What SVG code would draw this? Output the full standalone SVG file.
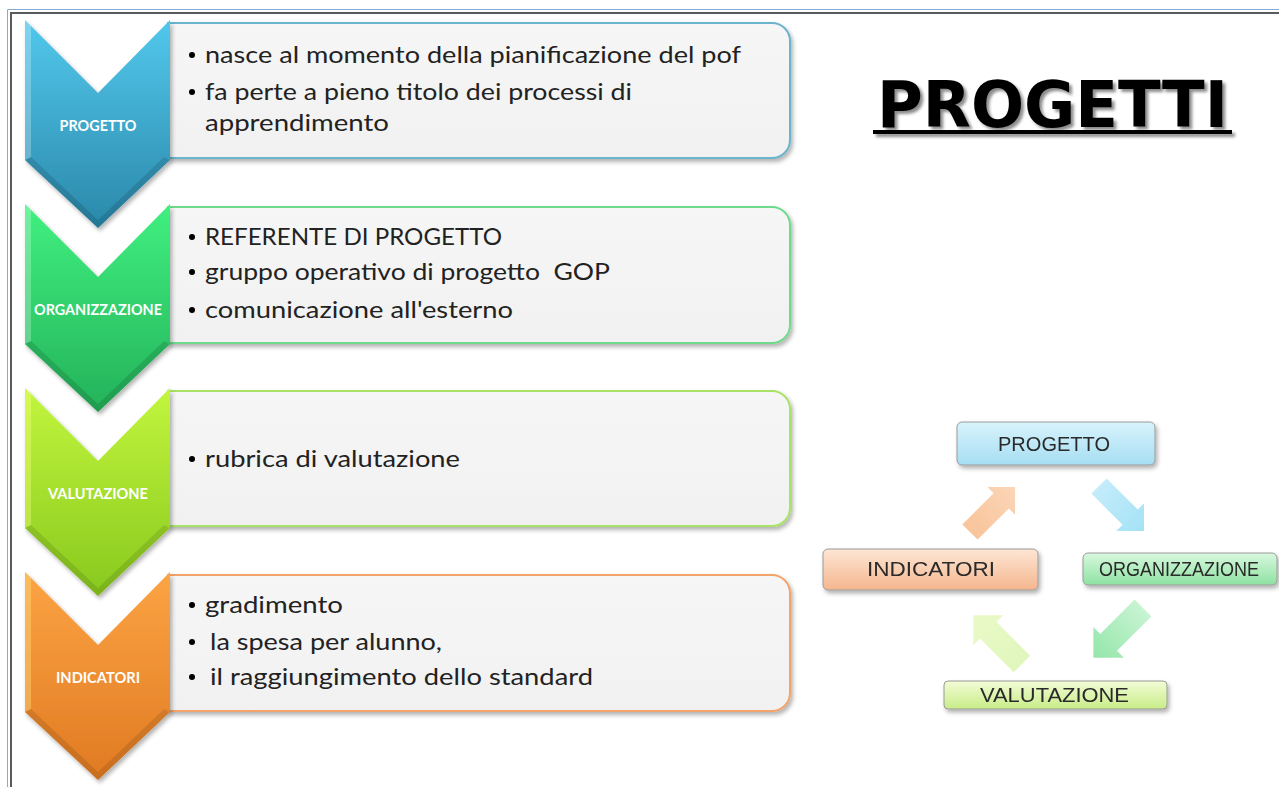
<svg xmlns="http://www.w3.org/2000/svg" width="1279" height="787" viewBox="0 0 1279 787">
<style>
.item{font-family:Lato,"Open Sans","Liberation Sans",sans-serif;font-size:24px;fill:#222}
.lbl{font-family:Lato,"Open Sans","Liberation Sans",sans-serif;font-weight:bold;font-size:15px;fill:#fff;text-anchor:middle}
.cyc{font-family:"Liberation Sans",Arial,sans-serif;font-size:20px;fill:#2a2a2a}
.box{fill:url(#boxFill);stroke-width:2}
.cbox{stroke:#9a9a9a;stroke-width:1}
.title{font-family:"DejaVu Sans",Verdana,sans-serif;font-weight:bold;font-size:64px;fill:#000}
</style>
<defs>
<filter id="sh" x="-10%" y="-10%" width="130%" height="140%"><feDropShadow dx="2" dy="3" stdDeviation="2" flood-color="#000" flood-opacity="0.3"/></filter>
<filter id="tsh" x="-10%" y="-20%" width="130%" height="150%"><feDropShadow dx="3" dy="3" stdDeviation="1.5" flood-color="#000" flood-opacity="0.45"/></filter>
<linearGradient id="boxFill" x1="0" y1="0" x2="0" y2="1"><stop offset="0" stop-color="#f6f6f6"/><stop offset="1" stop-color="#f1f1f1"/></linearGradient>
<linearGradient id="gBlue" x1="0" y1="0" x2="0" y2="1"><stop offset="0" stop-color="#52c8ec"/><stop offset="1" stop-color="#2a88aa"/></linearGradient>
<linearGradient id="gGreen" x1="0" y1="0" x2="0" y2="1"><stop offset="0" stop-color="#40f080"/><stop offset="1" stop-color="#24b25a"/></linearGradient>
<linearGradient id="gLime" x1="0" y1="0" x2="0" y2="1"><stop offset="0" stop-color="#c2f63e"/><stop offset="1" stop-color="#88c81e"/></linearGradient>
<linearGradient id="gOrange" x1="0" y1="0" x2="0" y2="1"><stop offset="0" stop-color="#fca444"/><stop offset="1" stop-color="#e07a22"/></linearGradient>
<linearGradient id="cBlue" x1="0" y1="0" x2="0" y2="1"><stop offset="0" stop-color="#d8f3fc"/><stop offset="1" stop-color="#a6def2"/></linearGradient>
<linearGradient id="cGreen" x1="0" y1="0" x2="0" y2="1"><stop offset="0" stop-color="#d8f8de"/><stop offset="1" stop-color="#8ee2a2"/></linearGradient>
<linearGradient id="cOrange" x1="0" y1="0" x2="0" y2="1"><stop offset="0" stop-color="#fde6d4"/><stop offset="1" stop-color="#f5b68e"/></linearGradient>
<linearGradient id="cLime" x1="0" y1="0" x2="0" y2="1"><stop offset="0" stop-color="#f2fcd6"/><stop offset="1" stop-color="#c8ec88"/></linearGradient>
<linearGradient id="aBlue" x1="0" y1="0" x2="1" y2="0"><stop offset="0" stop-color="#c4ecfa"/><stop offset="1" stop-color="#a4e2f6"/></linearGradient>
<linearGradient id="aGreen" x1="0" y1="0" x2="1" y2="0"><stop offset="0" stop-color="#c8f4d2"/><stop offset="1" stop-color="#94e6aa"/></linearGradient>
<linearGradient id="aLime" x1="0" y1="0" x2="1" y2="0"><stop offset="0" stop-color="#e0f6bc"/><stop offset="1" stop-color="#eafac8"/></linearGradient>
<linearGradient id="aOrange" x1="0" y1="0" x2="1" y2="0"><stop offset="0" stop-color="#f8c49a"/><stop offset="1" stop-color="#fbd6b8"/></linearGradient>
<path id="arr" d="M0,-11 L45,-11 L45,-20 L65,0 L45,20 L45,11 L0,11 Z"/>
</defs>

<rect width="1279" height="787" fill="#fff"/>
<g id="frame" fill="none">
<path d="M7.5,787 V9.5 H1279" stroke="#86aad6" stroke-width="1"/>
<path d="M11,787 V13 H1279" stroke="#5a5a5a" stroke-width="2"/>
</g>

<g id="node-progetto">
<path class="box" filter="url(#sh)" stroke="#6ab4cc" d="M168,23 H772 A18,18 0 0 1 790,41 V140 A18,18 0 0 1 772,158 H168 Z"/>
<path filter="url(#sh)" fill="url(#gBlue)" d="M25,20 L98,93 L170,20 L170,160 L98,228 L25,160 Z"/>
<path fill="#fff" opacity="0.25" d="M25,20 L31,26 L31,157 L25,160 Z"/>
<path fill="#000" opacity="0.12" d="M25,160 L31,157 L98,220 L164,157 L170,160 L98,228 Z"/>
<text class="lbl" x="98" y="131" textLength="77" lengthAdjust="spacingAndGlyphs">PROGETTO</text>
<circle cx="192" cy="55" r="3"/><text class="item" x="205" y="63" textLength="536" lengthAdjust="spacingAndGlyphs">nasce al momento della pianificazione del pof</text>
<circle cx="192" cy="92" r="3"/><text class="item" x="205" y="100" textLength="427" lengthAdjust="spacingAndGlyphs">fa perte a pieno titolo dei processi di</text>
<text class="item" x="205" y="131" textLength="184" lengthAdjust="spacingAndGlyphs">apprendimento</text>
</g>

<g id="node-organizzazione">
<path class="box" filter="url(#sh)" stroke="#70da8c" d="M168,207 H772 A18,18 0 0 1 790,225 V325 A18,18 0 0 1 772,343 H168 Z"/>
<path filter="url(#sh)" fill="url(#gGreen)" d="M25,204 L98,277 L170,204 L170,344 L98,412 L25,344 Z"/>
<path fill="#fff" opacity="0.25" d="M25,204 L31,210 L31,341 L25,344 Z"/>
<path fill="#000" opacity="0.12" d="M25,344 L31,341 L98,404 L164,341 L170,344 L98,412 Z"/>
<text class="lbl" x="98" y="315" textLength="128" lengthAdjust="spacingAndGlyphs">ORGANIZZAZIONE</text>
<circle cx="192" cy="237" r="3"/><text class="item" x="205" y="245" textLength="297" lengthAdjust="spacingAndGlyphs">REFERENTE DI PROGETTO</text>
<circle cx="192" cy="272" r="3"/><text class="item" x="205" y="280" textLength="405" lengthAdjust="spacingAndGlyphs" xml:space="preserve">gruppo operativo di progetto  GOP</text>
<circle cx="192" cy="310" r="3"/><text class="item" x="205" y="318" textLength="308" lengthAdjust="spacingAndGlyphs">comunicazione all'esterno</text>
</g>

<g id="node-valutazione">
<path class="box" filter="url(#sh)" stroke="#a8e266" d="M168,391 H772 A18,18 0 0 1 790,409 V508 A18,18 0 0 1 772,526 H168 Z"/>
<path filter="url(#sh)" fill="url(#gLime)" d="M25,388 L98,461 L170,388 L170,528 L98,596 L25,528 Z"/>
<path fill="#ffff80" opacity="0.35" d="M25,388 L31,394 L31,525 L25,528 Z"/>
<path fill="#000" opacity="0.1" d="M25,528 L31,525 L98,588 L164,525 L170,528 L98,596 Z"/>
<text class="lbl" x="98" y="499" textLength="100" lengthAdjust="spacingAndGlyphs">VALUTAZIONE</text>
<circle cx="192" cy="459" r="3"/><text class="item" x="205" y="467" textLength="255" lengthAdjust="spacingAndGlyphs">rubrica di valutazione</text>
</g>

<g id="node-indicatori">
<path class="box" filter="url(#sh)" stroke="#f2a46a" d="M168,575 H772 A18,18 0 0 1 790,593 V693 A18,18 0 0 1 772,711 H168 Z"/>
<path filter="url(#sh)" fill="url(#gOrange)" d="M25,572 L98,645 L170,572 L170,712 L98,780 L25,712 Z"/>
<path fill="#ffe080" opacity="0.4" d="M25,572 L31,578 L31,709 L25,712 Z"/>
<path fill="#000" opacity="0.1" d="M25,712 L31,709 L98,772 L164,709 L170,712 L98,780 Z"/>
<text class="lbl" x="98" y="683" textLength="84" lengthAdjust="spacingAndGlyphs">INDICATORI</text>
<circle cx="192" cy="605" r="3"/><text class="item" x="205" y="613" textLength="138" lengthAdjust="spacingAndGlyphs">gradimento</text>
<circle cx="192" cy="642" r="3"/><text class="item" x="210" y="650" textLength="232" lengthAdjust="spacingAndGlyphs">la spesa per alunno,</text>
<circle cx="192" cy="677" r="3"/><text class="item" x="210" y="685" textLength="383" lengthAdjust="spacingAndGlyphs">il raggiungimento dello standard</text>
</g>

<g id="title" filter="url(#tsh)">
<text class="title" x="877" y="127" textLength="351" lengthAdjust="spacingAndGlyphs">PROGETTI</text>
<rect x="873" y="130" width="359" height="4" fill="#000"/>
</g>

<g id="connectors">
<use href="#arr" fill="url(#aBlue)" transform="translate(1099,486) rotate(45) scale(0.98)"/>
<use href="#arr" fill="url(#aGreen)" transform="translate(1143,608) rotate(135) scale(1.08)"/>
<use href="#arr" fill="url(#aLime)" transform="translate(1022,664) rotate(225) scale(1.06)"/>
<use href="#arr" fill="url(#aOrange)" transform="translate(970,532) rotate(-45) scale(0.98)"/>
</g>

<g id="cyc-progetto" filter="url(#sh)">
<rect class="cbox" x="957" y="422" width="198" height="43" rx="5" fill="url(#cBlue)"/>
<text class="cyc" x="998" y="451" textLength="112" lengthAdjust="spacingAndGlyphs">PROGETTO</text>
</g>
<g id="cyc-organizzazione" filter="url(#sh)">
<rect class="cbox" x="1083" y="553" width="194" height="32" rx="5" fill="url(#cGreen)"/>
<text class="cyc" x="1099" y="576" font-size="18" textLength="160" lengthAdjust="spacingAndGlyphs">ORGANIZZAZIONE</text>
</g>
<g id="cyc-indicatori" filter="url(#sh)">
<rect class="cbox" x="823" y="549" width="215" height="41" rx="5" fill="url(#cOrange)"/>
<text class="cyc" x="867" y="576" textLength="128" lengthAdjust="spacingAndGlyphs">INDICATORI</text>
</g>
<g id="cyc-valutazione" filter="url(#sh)">
<rect class="cbox" x="944" y="681" width="223" height="28" rx="4" fill="url(#cLime)"/>
<text class="cyc" x="980" y="702" textLength="149" lengthAdjust="spacingAndGlyphs">VALUTAZIONE</text>
</g>
</svg>
